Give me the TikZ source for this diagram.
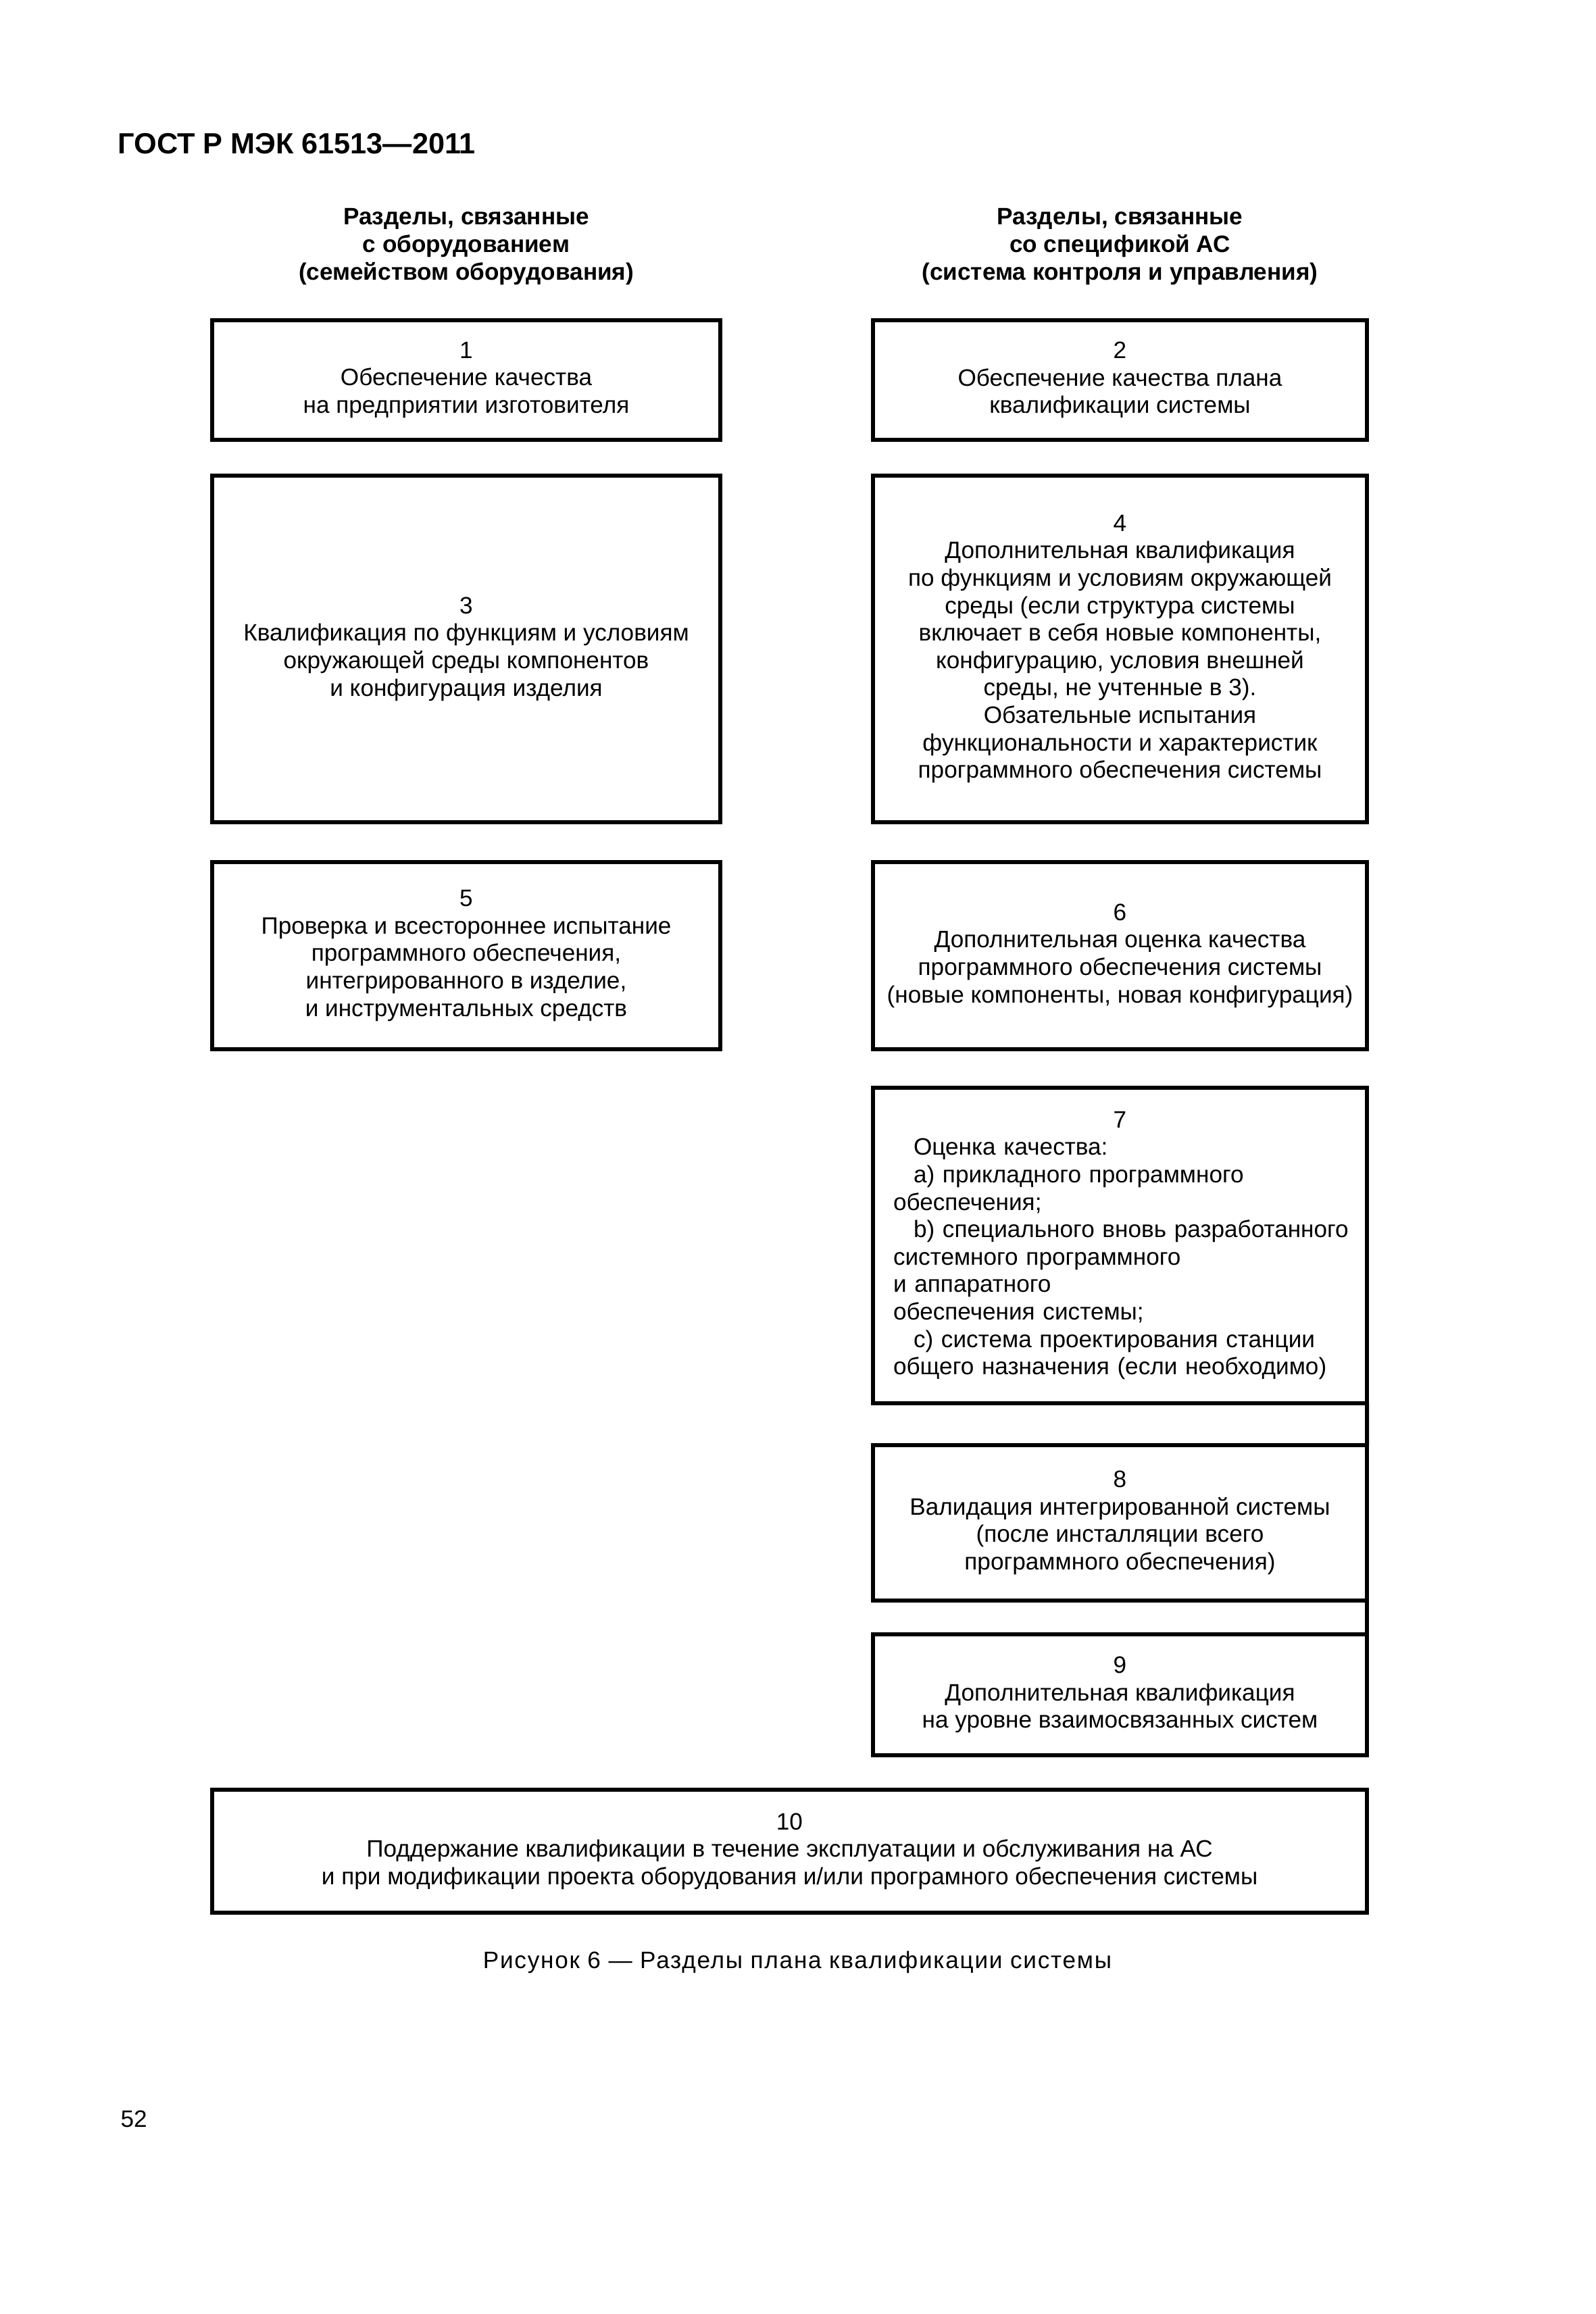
\documentclass[tikz,border=0pt]{standalone}
\usepackage{fontspec}
\setmainfont{Liberation Sans}
\usepackage{tikz}

\begin{document}
\begin{tikzpicture}[every node/.style={font=\fontsize{10}{11.55}\selectfont},
    sectbox/.style={draw, line width=0.06cm, align=center, inner sep=0pt, outer sep=0pt},
    leftbox/.style={sectbox, minimum width=7.52cm},
    rightbox/.style={sectbox, minimum width=7.31cm}]
\useasboundingbox (0,0) rectangle (23.62,-34.25);
\node[anchor=base west, inner sep=0pt, font=\bfseries\fontsize{12.3}{14}\selectfont] (gost)
    at (1.74,-2.27) {ГОСТ Р МЭК 61513—2011};
% column headings
\node[align=center, font=\bfseries\fontsize{10}{11.55}\selectfont] (headl)
    at (6.90,-3.65) {Разделы, связанные\\с оборудованием\\(семейством оборудования)};
\node[align=center, font=\bfseries\fontsize{10}{11.55}\selectfont] (headr)
    at (16.575,-3.65) {Разделы, связанные\\со спецификой АС\\(система контроля и управления)};
% left column
\node[leftbox, minimum height=1.77cm] (l1) at (6.90,-5.625)
    {1\\Обеспечение качества\\на предприятии изготовителя};
\node[leftbox, minimum height=5.13cm] (l3) at (6.90,-9.605)
    {3\\Квалификация по функциям и условиям\\окружающей среды компонентов\\и конфигурация изделия};
\node[leftbox, minimum height=2.77cm] (l5) at (6.90,-14.145)
    {5\\Проверка и всестороннее испытание\\программного обеспечения,\\интегрированного в изделие,\\и инструментальных средств};
% right column
\node[rightbox, minimum height=1.77cm] (r2) at (16.575,-5.625)
    {2\\Обеспечение качества плана\\квалификации системы};
\node[rightbox, minimum height=5.13cm] (r4) at (16.575,-9.605)
    {4\\Дополнительная квалификация\\по функциям и условиям окружающей\\среды (если структура системы\\включает в себя новые компоненты,\\конфигурацию, условия внешней\\среды, не учтенные в 3).\\Обзательные испытания\\функциональности и характеристик\\программного обеспечения системы};
\node[rightbox, minimum height=4.67cm, text width=6.71cm, align=left, inner xsep=0.30cm] (r7)
    at (16.575,-18.435)
    {\makebox[\linewidth]{7}\\
     \hspace*{0.3cm}Оценка качества:\\
     \hspace*{0.3cm}а) прикладного программного\\
     обеспечения;\\
     \hspace*{0.3cm}\mbox{b) специального вновь разработанного}\\
     системного программного\\
     и аппаратного\\
     обеспечения системы;\\
     \hspace*{0.3cm}c) система проектирования станции\\
     общего назначения (если необходимо)};
\node[rightbox, minimum height=2.77cm] (r6) at (16.575,-14.145)
    {6\\Дополнительная оценка качества\\программного обеспечения системы\\(новые компоненты, новая конфигурация)};
\node[rightbox, minimum height=2.30cm] (r8) at (16.575,-22.54)
    {8\\Валидация интегрированной системы\\(после инсталляции всего\\программного обеспечения)};
\node[rightbox, minimum height=1.79cm] (r9) at (16.575,-25.085)
    {9\\Дополнительная квалификация\\на уровне взаимосвязанных систем};
\draw[line width=0.06cm] (r7.south east) -- (r8.north east);
\draw[line width=0.06cm] (r8.south east) -- (r9.north east);
% common box
\node[sectbox, minimum width=17.09cm, minimum height=1.82cm] (b10) at (11.685,-27.40)
    {10\\Поддержание квалификации в течение эксплуатации и обслуживания на АС\\и при модификации проекта оборудования и/или програмного обеспечения системы};
\node[font=\fontsize{10}{11.55}\selectfont\addfontfeature{LetterSpace=5}] (caption)
    at (11.80,-29.04) {Рисунок 6 — Разделы плана квалификации системы};
\node[anchor=base west, inner sep=0pt] (page) at (1.78,-31.48) {52};
\end{tikzpicture}
\end{document}
